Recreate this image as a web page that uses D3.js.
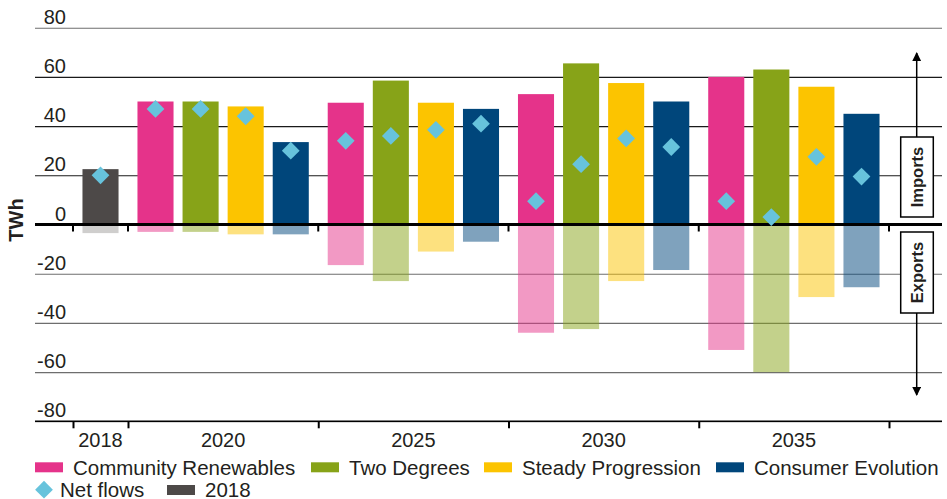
<!DOCTYPE html>
<html lang="en">
<head>
    <meta charset="UTF-8">
    <title>Imports and exports, TWh</title>
    <script src="https://d3js.org/d3.v7.min.js"></script>
    <style>
        body { margin: 0; background: #fff; }
        svg text { font-family: "Liberation Sans", Arial, sans-serif; fill: #231f20; }
    </style>
</head>
<body>
    <div id="chart"></div>

    <script>
        // Data (TWh)
        const years = ["2020", "2025", "2030", "2035"];
        const scenarios = ["Community Renewables", "Two Degrees", "Steady Progression", "Consumer Evolution"];
        const colors = ["#e5338a", "#87a318", "#fcc400", "#00467b"];

        const importsCR = [50, 49.5, 53, 60];
        const exportsCR = [-3, -16.5, -44, -51];
        const netCR = [47, 34, 9.5, 9.5];

        const importsTD = [50, 58.5, 65.5, 63];
        const exportsTD = [-3, -23, -42.5, -60];
        const netTD = [47, 36, 24.5, 3];

        const importsSP = [48, 49.5, 57.5, 56];
        const exportsSP = [-4, -11, -23, -29.5];
        const netSP = [44, 38.5, 35, 27.5];

        const importsCE = [33.5, 47, 50, 45];
        const exportsCE = [-4, -7, -18.5, -25.5];
        const netCE = [30, 41, 31.5, 19.5];

        const imports2018 = 22.5;
        const exports2018 = -3.5;
        const net2018 = 20;

        const yTicks = [80, 60, 40, 20, 0, -20, -40, -60, -80];

        const W = 947, H = 499;
        const left = 35, right = 942;

        const svg = d3.select("#chart").append("svg")
            .attr("width", W)
            .attr("height", H);

        const y = d3.scaleLinear().domain([-80, 80]).range([421.3, 27.7]);

        // Build bar rows from the arrays
        const importsAll = [importsCR, importsTD, importsSP, importsCE];
        const exportsAll = [exportsCR, exportsTD, exportsSP, exportsCE];
        const netAll = [netCR, netTD, netSP, netCE];

        const groups = [{ year: "2018", bars: [{ key: "2018", imp: imports2018, exp: exports2018, net: net2018, color: "#4d4948", expOpacity: 0.27 }] }];
        years.forEach((yr, j) => {
            groups.push({
                year: yr,
                bars: scenarios.map((s, i) => ({
                    key: s, imp: importsAll[i][j], exp: exportsAll[i][j], net: netAll[i][j],
                    color: colors[i], expOpacity: 0.5
                }))
            });
        });

        // Group extents: width proportional to bar count plus outer padding
        const pIn = 0.2, pOut = 0.21;
        let acc = 0;
        groups.forEach(g => { g.u0 = acc; acc += g.bars.length - pIn + 2 * pOut; g.u1 = acc; });
        const xu = d3.scaleLinear().domain([0, acc]).range([73, 889]);
        groups.forEach(g => {
            g.x0 = xu(g.u0); g.x1 = xu(g.u1);
            g.band = d3.scaleBand().domain(g.bars.map(b => b.key)).range([g.x0, g.x1])
                .paddingInner(pIn).paddingOuter(pOut);
        });
        const boundaries = [xu(0)].concat(groups.map(g => xu(g.u1)));

        // Gridlines + y labels
        const yAxis = svg.append("g")
            .attr("transform", `translate(${left},0)`)
            .call(d3.axisLeft(y).tickValues(yTicks).tickFormat(d => String(d))
                .tickSize(-(right - left)).tickSizeOuter(0))
            .call(g => g.select(".domain").remove());
        yAxis.selectAll(".tick line")
            .attr("stroke", d => (d > 0 && d < 80) ? "#1a1a1a" : "#6e6e6e")
            .attr("stroke-width", 1.1);
        yAxis.selectAll(".tick text")
            .attr("x", 31)
            .attr("dy", -4.5)
            .attr("text-anchor", "end")
            .style("font-size", "20px");

        // Bars
        const bars = groups.flatMap(g => g.bars.map(b => ({ ...b, x: g.band(b.key), w: g.band.bandwidth() })));

        svg.append("g").selectAll("rect.imp")
            .data(bars).join("rect")
            .attr("x", d => d.x)
            .attr("width", d => d.w)
            .attr("y", d => y(d.imp))
            .attr("height", d => y(0) - y(d.imp))
            .attr("fill", d => d.color);

        svg.append("g").selectAll("rect.exp")
            .data(bars).join("rect")
            .attr("x", d => d.x)
            .attr("width", d => d.w)
            .attr("y", y(0))
            .attr("height", d => y(d.exp) - y(0))
            .attr("fill", d => d.color)
            .attr("fill-opacity", d => d.expOpacity);

        // Zero line with group ticks
        svg.append("line")
            .attr("x1", left).attr("x2", right)
            .attr("y1", y(0)).attr("y2", y(0))
            .attr("stroke", "#000").attr("stroke-width", 3);
        svg.append("g").selectAll("line")
            .data(boundaries).join("line")
            .attr("x1", d => d).attr("x2", d => d)
            .attr("y1", y(0)).attr("y2", y(0) + 7)
            .attr("stroke", "#000").attr("stroke-width", 2);

        // Bottom axis
        const xAxis = svg.append("g")
            .attr("transform", `translate(0,${y(-80)})`)
            .call(d3.axisBottom(xu.copy().domain([73, 889]).range([73, 889]))
                .tickValues(boundaries).tickFormat("").tickSizeInner(7).tickSizeOuter(0))
            .call(g => g.select(".domain").remove());
        xAxis.selectAll(".tick line").attr("stroke", "#000").attr("stroke-width", 2);
        svg.append("line")
            .attr("x1", left).attr("x2", right)
            .attr("y1", y(-80)).attr("y2", y(-80))
            .attr("stroke", "#000").attr("stroke-width", 1.5);

        svg.append("g").selectAll("text")
            .data(groups).join("text")
            .attr("x", d => (d.x0 + d.x1) / 2)
            .attr("y", 447)
            .attr("text-anchor", "middle")
            .style("font-size", "20px")
            .text(d => d.year);

        // Net flow diamonds
        const diamond = d3.symbol().type(d3.symbolSquare).size(158);
        svg.append("g").selectAll("path")
            .data(bars).join("path")
            .attr("d", diamond)
            .attr("transform", d => `translate(${d.x + d.w / 2},${y(d.net)}) rotate(45)`)
            .attr("fill", "#67c3dc");

        // Y title
        svg.append("text")
            .attr("transform", "translate(23,220) rotate(-90)")
            .attr("text-anchor", "middle")
            .style("font-size", "20px")
            .style("font-weight", "bold")
            .text("TWh");

        // Imports / Exports annotation
        const defs = svg.append("defs");
        defs.append("marker")
            .attr("id", "arrow")
            .attr("viewBox", "0 0 10 10")
            .attr("refX", 9).attr("refY", 5)
            .attr("markerWidth", 9).attr("markerHeight", 9)
            .attr("markerUnits", "userSpaceOnUse")
            .attr("orient", "auto")
            .append("path").attr("d", "M0,0L10,5L0,10Z").attr("fill", "#000");

        const ax = 916.7;
        svg.append("line").attr("x1", ax).attr("x2", ax).attr("y1", 137).attr("y2", 53)
            .attr("stroke", "#000").attr("stroke-width", 1.5).attr("marker-end", "url(#arrow)");
        svg.append("line").attr("x1", ax).attr("x2", ax).attr("y1", 313).attr("y2", 395)
            .attr("stroke", "#000").attr("stroke-width", 1.5).attr("marker-end", "url(#arrow)");

        [{ label: "Imports", y0: 137, y1: 217 }, { label: "Exports", y0: 232, y1: 313 }].forEach(b => {
            svg.append("rect")
                .attr("x", 900.7).attr("y", b.y0)
                .attr("width", 32.6).attr("height", b.y1 - b.y0)
                .attr("fill", "#fff").attr("stroke", "#000").attr("stroke-width", 1.5);
            svg.append("text")
                .attr("transform", `translate(${ax + 6},${(b.y0 + b.y1) / 2}) rotate(-90)`)
                .attr("text-anchor", "middle")
                .style("font-size", "16.5px")
                .style("font-weight", "bold")
                .text(b.label);
        });

        // Legend
        const legend = svg.append("g");
        const legendX = [35, 311, 484, 716];
        scenarios.forEach((s, i) => {
            legend.append("rect").attr("x", legendX[i]).attr("y", 462.3)
                .attr("width", 28).attr("height", 10).attr("fill", colors[i]);
            legend.append("text").attr("x", legendX[i] + 38).attr("y", 474.5)
                .style("font-size", "20.5px").text(s);
        });
        legend.append("path")
            .attr("d", diamond)
            .attr("transform", "translate(44,489.7) rotate(45)")
            .attr("fill", "#67c3dc");
        legend.append("text").attr("x", 60).attr("y", 496.5)
            .style("font-size", "20.5px").text("Net flows");
        legend.append("rect").attr("x", 167).attr("y", 485)
            .attr("width", 28).attr("height", 10).attr("fill", "#4d4948");
        legend.append("text").attr("x", 205).attr("y", 496.5)
            .style("font-size", "20.5px").text("2018");
    </script>
</body>
</html>
